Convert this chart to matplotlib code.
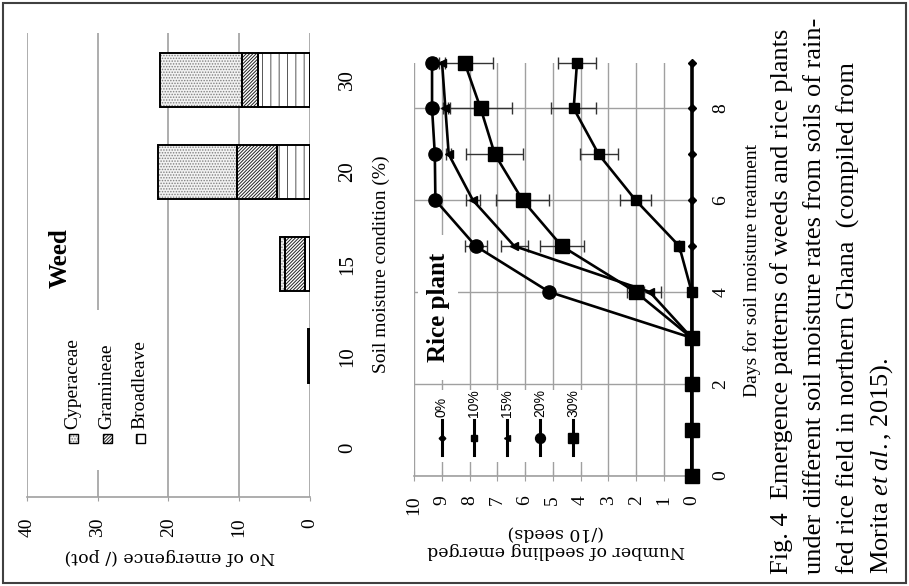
import numpy as np
import matplotlib
matplotlib.use('Agg')
import matplotlib.pyplot as plt
from matplotlib.patches import Rectangle
from matplotlib.lines import Line2D

plt.rcParams['font.family'] = 'Liberation Serif'
plt.rcParams['mathtext.fontset'] = 'custom'
plt.rcParams['mathtext.rm'] = 'Liberation Serif'
plt.rcParams['mathtext.it'] = 'Liberation Serif:italic'
plt.rcParams['hatch.linewidth'] = 0.7

# weed emergence (/pot), stacked
moisture = ['0', '10', '15', '20', '30']
broadleave = [0, 0.3, 0.75, 4.7, 7.3]
gramineae = [0, 0, 2.8, 5.6, 2.3]
cyperaceae = [0, 0, 0.7, 11.2, 11.6]
weed_names = ['Cyperaceae', 'Gramineae', 'Broadleave']

# rice seedlings emerged (/10 seeds)
days = [0, 1, 2, 3, 4, 5, 6, 7, 8, 9]
rice_labels = ['0%', '10%', '15%', '20%', '30%']
r0 = [0, 0, 0, 0, 0, 0, 0, 0, 0, 0]
r10 = [0, 0, 0, 0, 0, 0.45, 2.02, 3.35, 4.25, 4.13]
r10_err = [0, 0, 0, 0, 0, 0, 0.56, 0.68, 0.8, 0.69]
r15 = [0, 0, 0, 0, 1.51, 6.39, 7.88, 8.75, 8.87, 8.99]
r15_err = [0, 0, 0, 0, 0.4, 0.48, 0.25, 0.1, 0.1, 0.1]
r20 = [0, 0, 0, 0, 5.13, 7.78, 9.23, 9.25, 9.35, 9.35]
r20_err = [0, 0, 0, 0, 0, 0.4, 0, 0, 0, 0]
r30 = [0, 0, 0, 0, 2.02, 4.68, 6.09, 7.09, 7.6, 8.18]
r30_err = [0, 0, 0, 0, 0.3, 0.8, 0.95, 1.03, 1.12, 1.04]

caption = ['Fig. 4  Emergence patterns of weeds and rice plants',
           'under different soil moisture rates from soils of rain-',
           'fed rice field in northern Ghana  (compiled from',
           r'Morita $\mathit{et\ al.}$, 2015).']

W, H = 909, 586
def fx(x):
    return x / W
def fy(y):
    return 1 - y / H

gc = '#a0a0a0'
fig = plt.figure(figsize=(W / 100, H / 100), dpi=100)

"""WEED BAR CHART (page is turned, so bars go sideways)"""
ax1 = fig.add_axes([fx(26.7), fy(497), (310 - 26.7) / W, (497 - 33) / H])
pos = np.arange(len(moisture))
styles = [('||', 'white', '#555555'), ('//////////', 'white', '#222222'), ('......', '#f2f2f2', '#808080')]
left = np.zeros(len(moisture))
for vals, (hatch, fc, hc) in zip([broadleave, gramineae, cyperaceae], styles):
    vals = np.array(vals, dtype=float)
    idx = vals > 0
    ax1.barh(pos[idx], vals[idx], left=left[idx], height=0.59, color=fc,
             edgecolor=hc, hatch=hatch, lw=0, zorder=2)
    ax1.barh(pos[idx], vals[idx], left=left[idx], height=0.59, fill=False,
             edgecolor='black', lw=1.4, zorder=3)
    left = left + vals
ax1.set_xlim(40, 0)
ax1.set_ylim(-0.53, 4.51)
ax1.set_xticks([0, 10, 20, 30, 40])
ax1.xaxis.grid(True, color=gc, lw=1.2)
ax1.set_axisbelow(True)
for s in ['top', 'left', 'right']:
    ax1.spines[s].set_visible(False)
ax1.spines['bottom'].set_color(gc)
ax1.spines['bottom'].set_linewidth(1.2)
ax1.tick_params(axis='x', direction='out', length=3, color=gc, pad=12,
                labelsize=14, labelrotation=90)
ax1.yaxis.tick_right()
ax1.set_yticks(pos, moisture)
ax1.tick_params(axis='y', length=0, pad=20, labelsize=15, labelrotation=90)
for lab in ax1.get_yticklabels():
    lab.set_va('center')

fig.text(fx(170), fy(557), 'No of emergence (/ pot)', rotation=180, ha='center',
         va='center', fontsize=12.5, family='DejaVu Serif')
fig.text(fx(381), fy(264), 'Soil moisture condition (%)', rotation=90,
         ha='center', va='center', fontsize=14)
fig.text(fx(60), fy(258), 'Weed', rotation=90, ha='center', va='center',
         fontsize=18, weight='bold')

# legend drawn by hand (turned)
fig.add_artist(Rectangle((fx(45), fy(470)), 115 / W, 160 / H, transform=fig.transFigure,
                         fc='white', ec='none', zorder=1))
leg_styles = [styles[2], styles[1], styles[0]]
for xc, name, (hatch, fc, hc) in zip([73, 107, 140], weed_names, leg_styles):
    fig.add_artist(Rectangle((fx(xc - 4.5), fy(442.5)), 9 / W, 9 / H, transform=fig.transFigure,
                             fc=fc, ec=hc, hatch=hatch, lw=0, zorder=2))
    fig.add_artist(Rectangle((fx(xc - 4.5), fy(442.5)), 9 / W, 9 / H, transform=fig.transFigure,
                             fill=False, ec='black', lw=1, zorder=3))
    fig.text(fx(xc), fy(429), name, rotation=90, ha='center', va='bottom', fontsize=14, zorder=3)

"""RICE PLANT LINE CHART"""
ax2 = fig.add_axes([fx(414), fy(475.5), (691.7 - 414) / W, (475.5 - 62.5) / H])
series = [(r0, None, 'D', 4.5, 2.6),
          (r10, r10_err, 's', 6.5, 1.9),
          (r15, r15_err, '<', 5.5, 1.9),
          (r20, r20_err, 'o', 9.5, 1.9),
          (r30, r30_err, 's', 9.5, 1.9)]
for vals, err, mk, ms, lw in series:
    if err is not None:
        ax2.errorbar(vals, days, xerr=err, fmt='none', ecolor='#333333', elinewidth=1,
                     capsize=4, capthick=1, zorder=3, clip_on=False)
    ax2.plot(vals, days, color='black', lw=lw, marker=mk, ms=ms, zorder=4, clip_on=False)
ax2.set_xlim(10, 0)
ax2.set_ylim(0, 9)
ax2.set_xticks(range(11))
ax2.yaxis.tick_right()
ax2.set_yticks([0, 2, 4, 6, 8])
ax2.grid(True, color=gc, lw=1)
ax2.set_axisbelow(True)
for s in ['top', 'left', 'right']:
    ax2.spines[s].set_visible(False)
ax2.spines['bottom'].set_color(gc)
ax2.spines['bottom'].set_linewidth(1.2)
ax2.tick_params(axis='x', direction='inout', length=7, color=gc, pad=10.5,
                labelsize=14, labelrotation=90)
ax2.tick_params(axis='y', length=0, pad=15, labelsize=14, labelrotation=90)
for lab in ax2.get_yticklabels():
    lab.set_va('center')

fig.text(fx(556), fy(542), 'Number of seedling emerged\n(/10 seeds)', rotation=180,
         ha='center', va='center', multialignment='center', fontsize=12.5,
         family='DejaVu Serif', linespacing=1.0)
fig.text(fx(752), fy(270), 'Days for soil moisture treatment', rotation=90,
         ha='center', va='center', fontsize=14)

fig.add_artist(Rectangle((fx(418), fy(380)), 40 / W, 145 / H, transform=fig.transFigure,
                         fc='white', ec='none', zorder=1))
fig.text(fx(438), fy(307), 'Rice plant', rotation=90, ha='center', va='center',
         fontsize=18, weight='bold', zorder=2)

fig.add_artist(Rectangle((fx(428), fy(462)), 160 / W, 72 / H, transform=fig.transFigure,
                         fc='white', ec='none', zorder=1))
for xc, lab, (vals, err, mk, ms, lw) in zip([441.7, 474, 507, 540, 573], rice_labels, series):
    fig.add_artist(Line2D([fx(xc), fx(xc)], [fy(455), fy(420)], transform=fig.transFigure,
                          color='black', lw=2.2, zorder=2))
    fig.add_artist(Line2D([fx(xc)], [fy(438)], transform=fig.transFigure, color='black',
                          marker=mk, ms=ms * 0.75, zorder=3))
    fig.text(fx(xc), fy(417), lab, rotation=90, ha='center', va='bottom',
             family='Liberation Sans', fontsize=10, zorder=3)

"""CAPTION"""
for xc, line in zip([782, 815, 848, 882], caption):
    fig.text(fx(xc), fy(574), line, rotation=90, ha='center', va='bottom', fontsize=19)

fig.add_artist(Rectangle((fx(3), fy(583)), 903 / W, 580 / H, transform=fig.transFigure,
                         fill=False, ec='#404040', lw=1.5))

plt.savefig('out.png', dpi=100)
